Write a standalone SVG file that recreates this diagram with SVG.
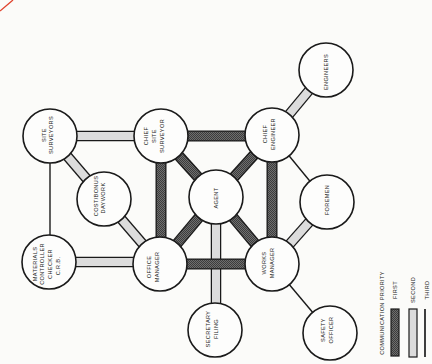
<svg xmlns="http://www.w3.org/2000/svg" width="432" height="364" viewBox="0 0 432 364">
<style>
.bg{fill:#fbfbf9}
.o1{stroke:#1a1a1a;stroke-width:11;fill:none}
.i1{stroke:url(#dots);stroke-width:8.4;fill:none}
.o2{stroke:#1a1a1a;stroke-width:10.5;fill:none}
.i2{stroke:#dcdcdc;stroke-width:8;fill:none}
.t3{stroke:#1a1a1a;stroke-width:1.4;fill:none}
.node{fill:#fdfdfc;stroke:#1a1a1a;stroke-width:1.6}
text{font-family:"Liberation Sans",Arial,sans-serif;font-size:5.6px;fill:#222;text-anchor:middle;dominant-baseline:central;letter-spacing:0.35px}
</style>
<defs>
<pattern id="dots" width="2" height="2" patternUnits="userSpaceOnUse">
<rect width="2" height="2" fill="#6e6e6e"/>
<rect width="1" height="1" fill="#3c3c3c"/>
<rect x="1" y="1" width="1" height="1" fill="#3c3c3c"/>
</pattern>
</defs>
<rect class="bg" x="0" y="0" width="432" height="364"/>
<path d="M0,11 Q6,6 13,0" fill="none" stroke="#e0452f" stroke-width="1.3"/>

<g id="connectors">
<!-- third priority -->
<line class="t3" x1="50" y1="136" x2="50" y2="262"/>
<line class="t3" x1="272" y1="135" x2="327" y2="202"/>
<line class="t3" x1="272" y1="264" x2="330" y2="333"/>
<!-- second priority -->
<g>
<line class="o2" x1="50" y1="136" x2="161" y2="136"/>
<line class="o2" x1="272" y1="135" x2="326" y2="70"/>
<line class="o2" x1="50" y1="136" x2="104" y2="199"/>
<line class="o2" x1="104" y1="199" x2="160" y2="264"/>
<line class="o2" x1="327" y1="202" x2="272" y2="264"/>
<line class="o2" x1="49" y1="262" x2="160" y2="262"/>
<line class="o2" x1="216" y1="197" x2="216" y2="330"/>
<line class="i2" x1="50" y1="136" x2="161" y2="136"/>
<line class="i2" x1="272" y1="135" x2="326" y2="70"/>
<line class="i2" x1="50" y1="136" x2="104" y2="199"/>
<line class="i2" x1="104" y1="199" x2="160" y2="264"/>
<line class="i2" x1="327" y1="202" x2="272" y2="264"/>
<line class="i2" x1="49" y1="262" x2="160" y2="262"/>
<line class="i2" x1="216" y1="197" x2="216" y2="330"/>
</g>
<!-- first priority -->
<g>
<line class="o1" x1="161" y1="136" x2="272" y2="136"/>
<line class="o1" x1="161" y1="136" x2="161" y2="264"/>
<line class="o1" x1="161" y1="136" x2="216" y2="197"/>
<line class="o1" x1="272" y1="135" x2="216" y2="197"/>
<line class="o1" x1="272" y1="135" x2="272" y2="264"/>
<line class="o1" x1="216" y1="197" x2="160" y2="264"/>
<line class="o1" x1="216" y1="197" x2="272" y2="264"/>
<line class="o1" x1="160" y1="264" x2="272" y2="264"/>
<line class="i1" x1="161" y1="136" x2="272" y2="136"/>
<line class="i1" x1="161" y1="136" x2="161" y2="264"/>
<line class="i1" x1="161" y1="136" x2="216" y2="197"/>
<line class="i1" x1="272" y1="135" x2="216" y2="197"/>
<line class="i1" x1="272" y1="135" x2="272" y2="264"/>
<line class="i1" x1="216" y1="197" x2="160" y2="264"/>
<line class="i1" x1="216" y1="197" x2="272" y2="264"/>
<line class="i1" x1="160" y1="264" x2="272" y2="264"/>
</g>
</g>

<g id="node-engineers">
<circle class="node" cx="326" cy="70" r="27"/>
<text transform="translate(326,72) rotate(-90)">ENGINEERS</text>
</g>
<g id="node-site-surveyors">
<circle class="node" cx="50" cy="136" r="27"/>
<text transform="translate(44,135) rotate(-90)">SITE</text>
<text transform="translate(51,135) rotate(-90)">SURVEYORS</text>
</g>
<g id="node-chief-site-surveyor">
<circle class="node" cx="161" cy="136" r="27"/>
<text transform="translate(146,136) rotate(-90)">CHIEF</text>
<text transform="translate(154,136) rotate(-90)">SITE</text>
<text transform="translate(162,136) rotate(-90)">SURVEYOR</text>
</g>
<g id="node-chief-engineer">
<circle class="node" cx="272" cy="135" r="27"/>
<text transform="translate(265,134) rotate(-90)">CHIEF</text>
<text transform="translate(273,134) rotate(-90)">ENGINEER</text>
</g>
<g id="node-cost-bonus">
<circle class="node" cx="104" cy="199" r="27"/>
<text transform="translate(96,196) rotate(-90)">COST/BONUS</text>
<text transform="translate(103,198) rotate(-90)">DAYWORK</text>
</g>
<g id="node-agent">
<circle class="node" cx="216" cy="197" r="27"/>
<text transform="translate(216,198) rotate(-90)">AGENT</text>
</g>
<g id="node-foremen">
<circle class="node" cx="327" cy="202" r="27"/>
<text transform="translate(327,200) rotate(-90)">FOREMEN</text>
</g>
<g id="node-materials">
<circle class="node" cx="49" cy="262" r="27"/>
<text transform="translate(35,264) rotate(-90)">MATERIALS</text>
<text transform="translate(42,264) rotate(-90)">CONTROLLER</text>
<text transform="translate(50,264) rotate(-90)">CHECKER</text>
<text transform="translate(58,266) rotate(-90)">C.R.B.</text>
</g>
<g id="node-office-manager">
<circle class="node" cx="160" cy="264" r="27"/>
<text transform="translate(149,267) rotate(-90)">OFFICE</text>
<text transform="translate(157,267) rotate(-90)">MANAGER</text>
</g>
<g id="node-works-manager">
<circle class="node" cx="272" cy="264" r="27"/>
<text transform="translate(264,263) rotate(-90)">WORKS</text>
<text transform="translate(272,263) rotate(-90)">MANAGER</text>
</g>
<g id="node-secretary">
<circle class="node" cx="215" cy="330" r="27"/>
<text transform="translate(208,329) rotate(-90)">SECRETARY</text>
<text transform="translate(216,329) rotate(-90)">FILING</text>
</g>
<g id="node-safety">
<circle class="node" cx="330" cy="333" r="27"/>
<text transform="translate(323,330) rotate(-90)">SAFETY</text>
<text transform="translate(331,330) rotate(-90)">OFFICER</text>
</g>

<g id="legend">
<text transform="translate(382,313) rotate(-90)">COMMUNICATION PRIORITY</text>
<rect x="391" y="309" width="8" height="47" fill="url(#dots)" stroke="#1a1a1a" stroke-width="1.2"/>
<text transform="translate(395,290) rotate(-90)">FIRST</text>
<rect x="409" y="309" width="8" height="48" fill="#dcdcdc" stroke="#1a1a1a" stroke-width="1.2"/>
<text transform="translate(413,290) rotate(-90)">SECOND</text>
<line x1="425" y1="309" x2="425" y2="357" stroke="#2a2a2a" stroke-width="1.8"/>
<text transform="translate(427,290) rotate(-90)">THIRD</text>
</g>
</svg>
